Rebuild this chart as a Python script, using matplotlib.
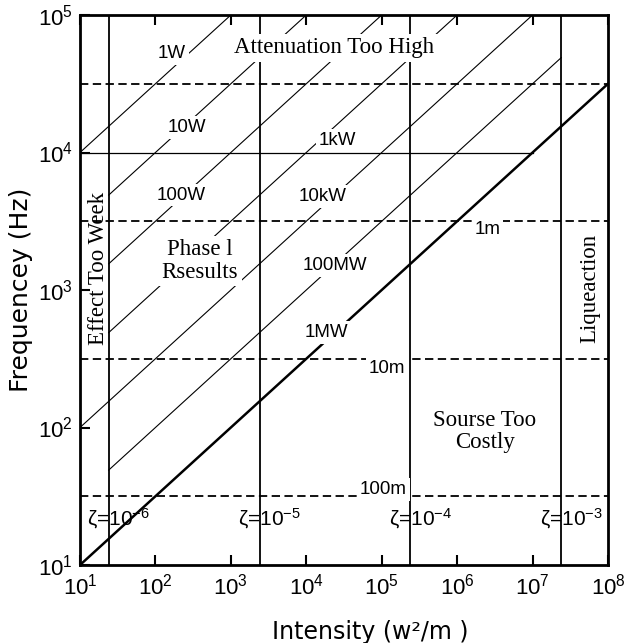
import numpy as np
import matplotlib
matplotlib.use("Agg")
import matplotlib.pyplot as plt

plt.rcParams['font.family'] = ['Liberation Sans', 'DejaVu Sans']
plt.rcParams['mathtext.fontset'] = 'custom'
plt.rcParams['mathtext.rm'] = 'Liberation Sans'
plt.rcParams['mathtext.it'] = 'Liberation Sans'
plt.rcParams['lines.scale_dashes'] = False

# constant power lines: frequency at I = 10 W/m2, start and end intensity
power_labels = ['1W', '10W', '100W', '1kW', '10kW', '100MW', '1MW']
power_f10 = [1e4, 3.162e3, 1e3, 316.2, 100, 31.62, 10]
power_i_start = [10, 24, 24, 24, 10, 24, 10]
power_i_end = [1e3, 1e4, 1e5, 1e6, 1e7, 2.4e7, 1e8]

# damping ratio limits (vertical lines)
zeta_exp = [-6, -5, -4, -3]
zeta_intensity = [24, 2.4e3, 2.4e5, 2.4e7]

# wavelength lines (dashed)
wave_freq = [3.162e4, 3.162e3, 316.2, 31.62]
wave_labels = ['', '1m', '10m', '100m']

# attenuation limit
atten_freq = 1e4
atten_i = [10, 1e7]

fig = plt.figure(figsize=(6.24, 6.43), dpi=100)
ax = fig.add_axes([80/624, 1-565/643, 528/624, 550/643])
ax.set_xscale('log')
ax.set_yscale('log')
ax.set_xlim(10, 1e8)
ax.set_ylim(10, 1e5)

for k in range(len(power_f10)):
    ii = np.array([power_i_start[k], power_i_end[k]])
    ff = power_f10[k]*np.sqrt(ii/10.0)
    lw = 1.8 if k == len(power_f10)-1 else 0.8
    ax.plot(ii, ff, color='black', lw=lw, zorder=2)

for xi in zeta_intensity:
    ax.axvline(xi, color='black', lw=1.3, zorder=3)

for fq in wave_freq:
    ax.axhline(fq, color='black', lw=1.3, dashes=(6, 3.2), zorder=3)

ax.plot(atten_i, [atten_freq, atten_freq], color='black', lw=0.9, zorder=2)

box = dict(boxstyle='square,pad=0.15', fc='white', ec='none')

# power labels sit in gaps of the lines
power_pos = [(2.22, 4.72), (2.42, 4.18), (2.34, 3.69), (4.41, 4.09),
             (4.21, 3.68), (4.38, 3.18), (4.27, 2.69)]
for lab, (lx, ly) in zip(power_labels, power_pos):
    ax.text(10**lx, 10**ly, lab, fontsize=13.5, ha='center', va='center',
            bbox=box, zorder=5)

wave_pos = [None, (6.40, 3.44), (5.07, 2.43), (5.02, 1.55)]
for lab, pos in zip(wave_labels, wave_pos):
    if pos is None:
        continue
    ax.text(10**pos[0], 10**pos[1], lab, fontsize=13.5, ha='center', va='center',
            bbox=box, zorder=5)

for e, xi in zip(zeta_exp, zeta_intensity):
    ax.text(xi*10**0.13, 10**1.34, 'ζ=10$^{%d}$' % e, fontsize=15,
            ha='center', va='center', zorder=5)

serif = ['Liberation Serif', 'DejaVu Serif']
ax.text(10**4.37, 10**4.76, 'Attenuation Too High', family=serif, fontsize=16.5,
        ha='center', va='center', bbox=box, zorder=5)
ax.text(10**2.59, 10**3.21, 'Phase l\nRsesults', family=serif, fontsize=16.5,
        ha='center', va='center', linespacing=1.1, bbox=box, zorder=5)
ax.text(10**6.37, 10**1.97, 'Sourse Too\nCostly', family=serif, fontsize=16.5,
        ha='center', va='center', linespacing=1.1, zorder=5)
ax.text(10**1.24, 10**3.16, 'Effect Too Week', family=serif, fontsize=16.5,
        ha='center', va='center', rotation=90, zorder=5)
ax.text(10**7.76, 10**3.01, 'Liqueaction', family=serif, fontsize=16.5,
        ha='center', va='center', rotation=90, zorder=5)

ax.set_xticks([10.0**p for p in range(1, 9)])
ax.set_xticklabels([r'10$^{%d}$' % p for p in range(1, 9)])
ax.set_yticks([10.0**p for p in range(1, 6)])
ax.set_yticklabels([r'10$^{%d}$' % p for p in range(1, 6)])
ax.minorticks_off()
ax.tick_params(axis='both', which='major', direction='in', length=7, width=1.5,
               labelsize=16, top=True, right=False)
ax.tick_params(axis='x', pad=6)
ax.tick_params(axis='y', pad=5)

for sp in ax.spines.values():
    sp.set_linewidth(2.0)

sans_wide = ['DejaVu Sans']
ax.set_ylabel('Frequencey (Hz)', fontsize=18, family=sans_wide)
ax.set_xlabel('Intensity (w²/m )', fontsize=17, family=sans_wide)
ax.yaxis.set_label_coords(-0.089, 0.5)
ax.xaxis.set_label_coords(0.55, -0.1)

plt.savefig('out.png', dpi=100)
